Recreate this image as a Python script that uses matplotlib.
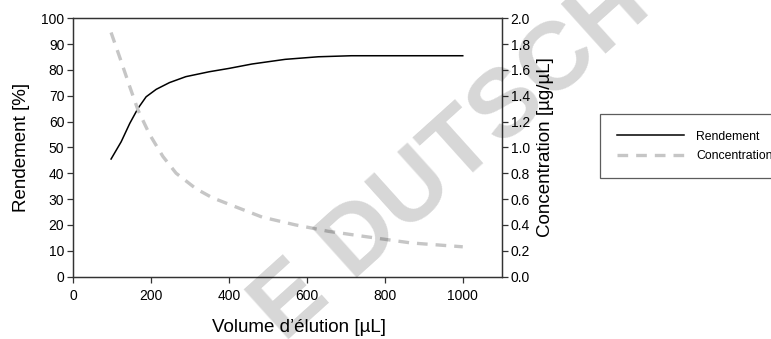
import matplotlib
matplotlib.use("Agg")
import matplotlib.pyplot as plt

plt.rcParams['font.family'] = ['Liberation Sans', 'DejaVu Sans']

# Data
vol_rend = [97, 123, 145, 166, 187, 213, 247, 289, 349, 400, 459, 544, 629, 714, 782, 900, 1000]
rendement = [45.5, 52.2, 59.3, 65.1, 69.6, 72.5, 75.1, 77.4, 79.3, 80.6, 82.3, 84.1, 85.1, 85.5, 85.5, 85.5, 85.5]
vol_conc = [97, 119, 145, 166, 196, 230, 264, 315, 357, 408, 485, 570, 655, 748, 867, 1000]
concentration = [1.89, 1.70, 1.47, 1.29, 1.10, 0.93, 0.80, 0.68, 0.61, 0.55, 0.46, 0.40, 0.35, 0.31, 0.26, 0.23]

x_ticks = [0, 200, 400, 600, 800, 1000]
left_ticks = list(range(0, 101, 10))
right_ticks = [0.0, 0.2, 0.4, 0.6, 0.8, 1.0, 1.2, 1.4, 1.6, 1.8, 2.0]
right_labels = ["0.0", "0.2", "0.4", "0.6", "0.8", "1.0", "1.2", "1.4", "1.6", "1.8", "2.0"]

W, H = 771, 339
fig = plt.figure(figsize=(W / 100, H / 100), dpi=100)
left, right, bottom, top = 73.3 / W, 501.7 / W, 1 - 276.5 / H, 1 - 18.3 / H
ax = fig.add_axes([left, bottom, right - left, top - bottom])
ax2 = ax.twinx()

l1, = ax.plot(vol_rend, rendement, color='black', lw=1.1, label='Rendement', zorder=3)
l2, = ax2.plot(vol_conc, concentration, color='#c6c6c6', lw=2.4, dashes=(3.2, 2.4),
               label='Concentration')

ax.set_xlim(0, 1100)
ax.set_ylim(0, 100)
ax2.set_ylim(0, 2.0)
ax.set_xticks(x_ticks)
ax.set_yticks(left_ticks)
ax2.set_yticks(right_ticks)
ax2.set_yticklabels(right_labels)

for a in (ax, ax2):
    for s in a.spines.values():
        s.set_color('#333333')
        s.set_linewidth(0.9)
    a.tick_params(direction='out', length=4, width=0.9, color='#333333', labelsize=10, pad=2.5)
ax.tick_params(axis='x', pad=5)

ax.set_xlabel('Volume d’élution [µL]', fontsize=13.5)
ax.xaxis.set_label_coords(0.526, -0.163)
ax.set_ylabel('Rendement [%]', fontsize=13.5, labelpad=8)
ax2.set_ylabel('Concentration [µg/µL]', fontsize=13.5, labelpad=5)

leg = fig.legend([l1, l2], ['Rendement', 'Concentration'], loc='upper left',
                 bbox_to_anchor=(600 / W, 1 - 179 / H, 200 / W, 65 / H), mode='expand',
                 borderaxespad=0, fontsize=8.8, handlelength=5.5, handletextpad=1.0,
                 borderpad=1.35, labelspacing=0.6, fancybox=False, frameon=True)
leg.get_frame().set_edgecolor('#333333')
leg.get_frame().set_linewidth(0.9)

# Watermark
fig.text(452 / W, 1 - 158 / H, 'E DUTSCH', fontsize=70, fontweight='bold',
         rotation=42, rotation_mode='anchor', ha='center', va='center',
         color=(0, 0, 0, 0.16), zorder=10)

fig.savefig('out.png', dpi=100)
